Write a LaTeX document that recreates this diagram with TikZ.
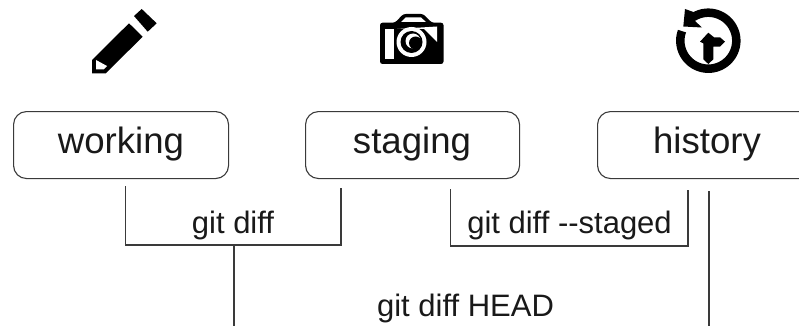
\documentclass[tikz,border=0pt]{standalone}
\usepackage{fontspec}
\setmainfont[Ligatures=NoCommon]{Liberation Sans}
\definecolor{ln}{HTML}{3A3A3A}
\begin{document}
\begin{tikzpicture}[x=1pt,y=-1pt,
  boxst/.style={draw=ln,line width=1.1pt,rounded corners=13pt,anchor=north west,inner sep=0pt,minimum height=67pt,fill=white},
  big/.style={font=\fontsize{36.6}{38}\selectfont,text=black!90,inner sep=0pt,anchor=base},
  lab/.style={font=\fontsize{31}{34}\selectfont,text=black!90,inner sep=0pt,anchor=base},
  wire/.style={draw=ln,line width=1.1pt}]
\useasboundingbox (0,0) rectangle (799,326);
\clip (0,0) rectangle (799,326);
% boxes
\node[boxst,minimum width=215pt] (working) at (13,111) {};
\node[boxst,minimum width=214pt] (staging) at (305,111) {};
\node[boxst,minimum width=240pt] (history) at (597,111) {};
\node[big] (tw) at (121,153) {working};
\node[big] (ts) at (412,153) {staging};
\node[big] (th) at (707,153) {history};
% coordinates
\coordinate (a1) at (125.5,186);
\coordinate (a2) at (125.5,245);
\coordinate (a3) at (341,245);
\coordinate (a4) at (341,188);
\coordinate (m) at (234,245);
\coordinate (m2) at (234,326);
\coordinate (b1) at (450.5,189);
\coordinate (b2) at (450.5,246);
\coordinate (b3) at (688,246);
\coordinate (b4) at (688,190);
\coordinate (h1) at (709,191);
\coordinate (h2) at (709,326);
\draw[wire] (a1) -- (a2) -- (a3) -- (a4);
\draw[wire] (m) -- (m2);
\draw[wire] (b1) -- (b2) -- (b3) -- (b4);
\draw[wire] (h1) -- (h2);
\node[lab] (l1) at (233,233) {git diff};
\node[lab] (l2) at (569.5,233) {git diff {-}{-}staged};
\node[lab] (l3) at (465.5,316) {git diff HEAD};
% pencil
\fill[black] (92,60) -- (129,23.3) -- (142.7,36.7) -- (105.7,73.3) -- (92,73.3) -- cycle;
\fill[black] (134,16) -- (141.7,9) -- (156.7,23.3) -- (147.7,31.7) -- cycle;
\fill[white] (96,60) -- (107,66) -- (103.5,69.5) -- (96,69.5) -- cycle;
% camera
\fill[black,rounded corners=2.5pt] (380,22.7) -- (395,22.7) -- (403.3,14) -- (423.3,14) -- (431.7,22.7) -- (443.5,22.7) -- (443.5,64) -- (380,64) -- cycle;
\fill[white] (401,22) -- (405.5,17.5) -- (421,17.5) -- (426,22) -- cycle;
\fill[white] (385,29) -- (394,29) -- (394,59) -- (385,59) -- cycle;
\fill[white] (397,29) -- (437,26.5) -- (437,42) -- (424,29) -- cycle;
\fill[white] (411.5,42) circle (15pt);
\fill[black] (411.5,42) circle (11pt);
\fill[white] (413,41) circle (7.5pt);
\fill[black] (415.5,43) circle (6.5pt);
% history
\draw[black,line width=8.5pt] plot[domain=-122:200,samples=70] ({708.3+28*cos(\x)},{40.7+28*sin(\x)});
\fill[black] (685,9) -- (683.3,26.5) -- (702,27.5) -- (695,21) -- (699,14) -- cycle;
\fill[black] (708.3,32.7) -- (714,37.3) -- (720,37.3) -- (725,41.7) -- (720,46.7) -- (713.3,46.7) -- (713.3,59.3) -- (708.3,64) -- (703.3,59.3) -- (703.3,43.3) -- (700,41.7) -- cycle;
\end{tikzpicture}
\end{document}
